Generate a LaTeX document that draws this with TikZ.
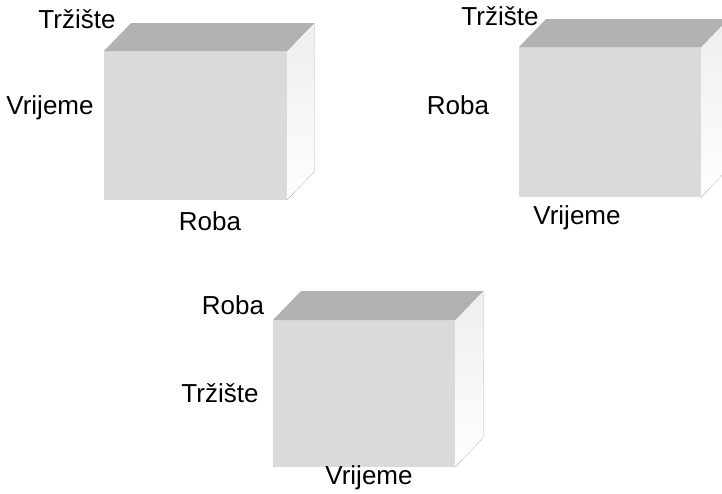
\documentclass[tikz,border=0pt]{standalone}
\usepackage{fontspec}
\setmainfont{Liberation Sans}
\usetikzlibrary{positioning}
\definecolor{cubeFront}{RGB}{218,218,218}
\definecolor{cubeTop}{RGB}{178,178,178}
\definecolor{cubeSide}{RGB}{238,238,238}

\begin{document}
\begin{tikzpicture}[
    x=0.5pt, y=-0.5pt,
    frontface/.style={fill=cubeFront},
    topface/.style={fill=cubeTop},
    sideface/.style={top color=cubeSide, bottom color=white!97!cubeSide},
    dimname/.style={inner sep=0pt, font=\fontsize{13}{15}\selectfont}
]
\clip (0,0) rectangle (722,493);
\fill[white] (0,0) rectangle (722,493);

% cube 1
\coordinate (a1) at (104,51);
\coordinate (b1) at (287,200);
\fill[frontface] (a1) rectangle (b1);
\fill[topface] (a1) -- ++(27,-28) -- (314,23) -- (287,51) -- cycle;
\fill[sideface] (287,51) -- (314,23) -- (314,172) -- (b1) -- cycle;
\node[dimname] (trz1) at (77,19) {Tržište};
\node[dimname] (vri1) at (50,108) {Vrijeme};
\node[dimname] (rob1) at (210,221) {Roba};

% cube 2
\coordinate (a2) at (519,47);
\coordinate (b2) at (701,197);
\fill[frontface] (a2) rectangle (b2);
\fill[topface] (a2) -- ++(27,-28) -- (728,19) -- (701,47) -- cycle;
\fill[sideface] (701,47) -- (728,19) -- (728,169) -- (b2) -- cycle;
\node[dimname] (trz2) at (500,16) {Tržište};
\node[dimname] (rob2) at (458,105) {Roba};
\node[dimname] (vri2) at (577,218) {Vrijeme};

% cube 3
\coordinate (a3) at (273,320);
\coordinate (b3) at (455,467);
\fill[frontface] (a3) rectangle (b3);
\fill[topface] (a3) -- ++(28,-29) -- (483,291) -- (455,320) -- cycle;
\fill[sideface] (455,320) -- (483,291) -- (483,438) -- (b3) -- cycle;
\node[dimname] (rob3) at (233,305) {Roba};
\node[dimname] (trz3) at (220,393) {Tržište};
\node[dimname] (vri3) at (369,478) {Vrijeme};
\end{tikzpicture}
\end{document}
